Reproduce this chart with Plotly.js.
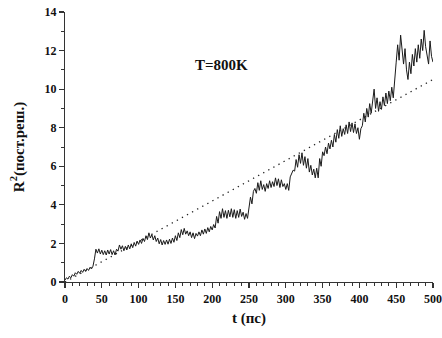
<!DOCTYPE html>
<html>
<head>
<meta charset="utf-8">
<script src="https://cdn.plot.ly/plotly-3.0.1.min.js"></script>
<style>html,body{margin:0;padding:0;background:#fff;}#chart{width:442px;height:338px;}</style>
</head>
<body>
<div id="chart"></div>
<script>
// time step of the sampled trace (пс)
const tStart = 0, tStep = 2;
// R^2 values, t = 0, 2, 4, ... 500
const r2 = [
 0.10,0.22,0.15,0.30,0.22,0.38,0.30,0.48,0.40,0.55,
 0.45,0.60,0.50,0.66,0.55,0.70,0.60,0.76,0.68,0.82,
 1.20,1.70,1.50,1.72,1.45,1.65,1.42,1.62,1.40,1.66,
 1.45,1.68,1.42,1.62,1.40,1.70,1.60,1.92,1.70,1.88,
 1.62,1.85,1.66,1.92,1.72,1.98,1.78,2.05,1.86,2.12,
 1.95,2.18,2.00,2.26,2.10,2.40,2.20,2.55,2.28,2.46,
 2.18,2.40,2.10,2.28,1.98,2.20,1.92,2.15,1.95,2.18,
 1.96,2.22,2.00,2.28,2.06,2.40,2.15,2.55,2.30,2.72,
 2.45,2.78,2.48,2.65,2.40,2.60,2.30,2.55,2.25,2.52,
 2.38,2.60,2.40,2.70,2.48,2.75,2.52,2.82,2.60,2.88,
 2.70,2.98,2.80,3.40,3.05,3.65,3.30,3.80,3.35,3.70,
 3.30,3.72,3.38,3.80,3.35,3.75,3.30,3.70,3.35,3.78,
 3.40,3.62,3.25,3.55,3.30,4.00,4.40,4.05,4.70,4.85,
 4.60,5.15,4.75,5.25,4.80,5.05,4.70,5.10,4.85,5.25,
 4.90,5.20,4.95,5.40,5.00,5.35,4.90,5.30,4.95,5.10,
 4.80,5.10,4.75,5.45,5.60,5.80,5.75,6.35,5.95,6.60,
 6.15,6.70,6.05,6.50,5.90,6.40,5.70,6.05,5.55,5.85,
 5.40,5.90,5.40,6.40,6.00,6.75,6.55,7.00,6.65,7.20,
 6.90,7.35,7.00,7.65,7.25,7.90,7.45,8.10,7.55,7.95,
 7.65,8.15,7.70,8.30,7.80,8.25,7.75,8.20,7.70,8.00,
 7.40,7.95,8.10,8.75,8.30,9.00,8.55,9.25,8.75,9.45,
 10.00,9.00,9.55,8.85,9.35,8.95,9.60,9.15,9.80,9.25,
 9.90,9.40,10.10,9.55,10.30,11.40,12.30,11.50,12.80,12.00,
 11.30,12.10,11.00,10.50,11.40,10.80,11.80,11.20,12.10,11.40,
 12.30,11.60,12.60,12.00,13.05,12.20,11.60,11.30,12.50,11.70,
 11.40
];
const t = r2.map((_, i) => tStart + i * tStep);
// dotted reference line end points
const fitT = [0, 500];
const fitR2 = [0, 10.5];
const label = 'T=800K';
const xTitle = 't (пс)';
const yTitle = 'R<sup>2</sup>(пост.реш.)';

const serif = 'Liberation Serif, Times New Roman, serif';
const data = [
  {x: t, y: r2, type: 'scatter', mode: 'lines', line: {color: '#1a1a1a', width: 1.0}, hoverinfo: 'skip'},
  {x: fitT, y: fitR2, type: 'scatter', mode: 'lines', line: {color: '#222', width: 1.3, dash: '1.3px,4.5px'}, hoverinfo: 'skip'}
];
const axisCommon = {
  showgrid: false, zeroline: false, showline: true, linecolor: '#333', linewidth: 1.2,
  ticks: 'outside', ticklen: 5, tickwidth: 1.2, tickcolor: '#333',
  tickfont: {family: serif, size: 12, color: '#111', weight: 'bold'},
  minor: {ticks: 'outside', ticklen: 3, tickwidth: 1, tickcolor: '#333'}
};
const layout = {
  width: 442, height: 338,
  margin: {l: 65, r: 9, t: 12, b: 56},
  paper_bgcolor: '#fff', plot_bgcolor: '#fff',
  showlegend: false,
  xaxis: Object.assign({}, axisCommon, {
    range: [0, 500], tick0: 0, dtick: 50, minor: Object.assign({}, axisCommon.minor, {dtick: 10}),
    title: {text: xTitle, font: {family: serif, size: 15, color: '#111', weight: 'bold'}, standoff: 8}
  }),
  yaxis: Object.assign({}, axisCommon, {
    range: [0, 14], tick0: 0, dtick: 2, minor: Object.assign({}, axisCommon.minor, {dtick: 1}),
    title: {text: yTitle, font: {family: serif, size: 15, color: '#111', weight: 'bold'}, standoff: 16}
  }),
  annotations: [{
    x: 213, y: 11.25, xref: 'x', yref: 'y', xanchor: 'center', yanchor: 'middle',
    text: label, showarrow: false, font: {family: serif, size: 15, color: '#111', weight: 'bold'}
  }]
};
Plotly.newPlot('chart', data, layout, {displayModeBar: false, staticPlot: true});
</script>
</body>
</html>
